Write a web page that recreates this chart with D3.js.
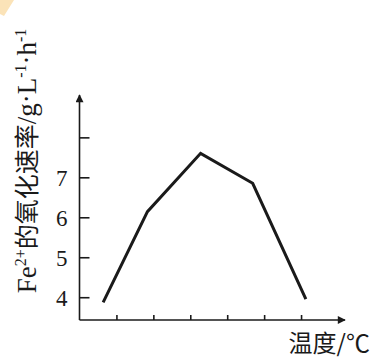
<!DOCTYPE html>
<html><head><meta charset="utf-8">
<script src="https://cdn.jsdelivr.net/npm/d3@7/dist/d3.min.js"></script>
<style>body{margin:0;background:#fff}svg{display:block}</style>
</head><body><svg id="c" width="374" height="358"></svg>
<script>
const temps = [0.64, 1.84, 3.28, 4.69, 6.13];
const rates = [3.87, 6.14, 7.6, 6.85, 3.95];
const xTicks = [1, 2, 3, 4, 5, 6];
const yTicks = [4, 5, 6, 7, 8];
const yTickLabels = ["4", "5", "6", "7", ""];

const svg = d3.select("#c");
const x = d3.scaleLinear().domain([0, 7.19]).range([79.5, 345]);
const y = d3.scaleLinear().domain([3.43, 9.06]).range([320, 95]);
const ink = "#1a1a1a";

svg.append("path").attr("d", "M0,0 L14,0 L4,16 L0,14 Z").attr("fill", "#fbe3b8");

const defs = svg.append("defs");
defs.append("marker").attr("id", "arr").attr("viewBox", "0 0 10 10").attr("refX", 9).attr("refY", 5)
  .attr("markerWidth", 10).attr("markerHeight", 8).attr("markerUnits", "userSpaceOnUse").attr("orient", "auto")
  .append("path").attr("d", "M0,0 L10,5 L0,10 Z").attr("fill", ink);

svg.append("line").attr("x1", x(0)).attr("y1", y(3.43)).attr("x2", x(0)).attr("y2", y(9.06))
  .attr("stroke", ink).attr("stroke-width", 1.6).attr("marker-end", "url(#arr)");
svg.append("line").attr("x1", x(0)).attr("y1", y(3.43)).attr("x2", x(7.19)).attr("y2", y(3.43))
  .attr("stroke", ink).attr("stroke-width", 1.6).attr("marker-end", "url(#arr)");

const yAxis = svg.append("g").attr("transform", `translate(${x(0)},0)`)
  .call(d3.axisLeft(y).tickValues(yTicks).tickSize(-10).tickPadding(12)
    .tickFormat((d, i) => yTickLabels[i]));
yAxis.select(".domain").remove();
yAxis.selectAll(".tick line").attr("stroke", ink).attr("stroke-width", 1.6);
yAxis.selectAll(".tick text").attr("fill", ink).style("font-family", "'Liberation Serif', serif")
  .style("font-size", "23px").attr("dy", "0.35em");

const xAxis = svg.append("g").attr("transform", `translate(0,${y(3.43)})`)
  .call(d3.axisBottom(x).tickValues(xTicks).tickSize(-5).tickFormat(""));
xAxis.select(".domain").remove();
xAxis.selectAll(".tick line").attr("stroke", ink).attr("stroke-width", 1.6);

svg.append("path").datum(temps.map((t, i) => [t, rates[i]]))
  .attr("d", d3.line().x(d => x(d[0])).y(d => y(d[1])))
  .attr("fill", "none").attr("stroke", ink).attr("stroke-width", 3).attr("stroke-linejoin", "miter");

const yt = svg.append("text").attr("transform", "translate(36,161) rotate(-90)")
  .attr("text-anchor", "middle").attr("fill", ink).attr("font-size", 27)
  .attr("font-family", "Liberation Serif, Noto Sans CJK SC");
yt.append("tspan").text("Fe");
yt.append("tspan").attr("font-size", 16).attr("dy", -10).text("2+");
yt.append("tspan").attr("dy", 10).attr("font-family", "Noto Sans CJK SC").attr("font-size", 25).text("的氧化速率");
yt.append("tspan").text("/g·L");
yt.append("tspan").attr("font-size", 16).attr("dy", -10).text("-1");
yt.append("tspan").attr("dy", 10).text("·h");
yt.append("tspan").attr("font-size", 16).attr("dy", -10).text("-1");

svg.append("text").attr("x", 370).attr("y", 352).attr("text-anchor", "end").attr("fill", ink)
  .attr("font-size", 24).attr("font-family", "Noto Sans CJK SC").text("温度/℃");
</script></body></html>
